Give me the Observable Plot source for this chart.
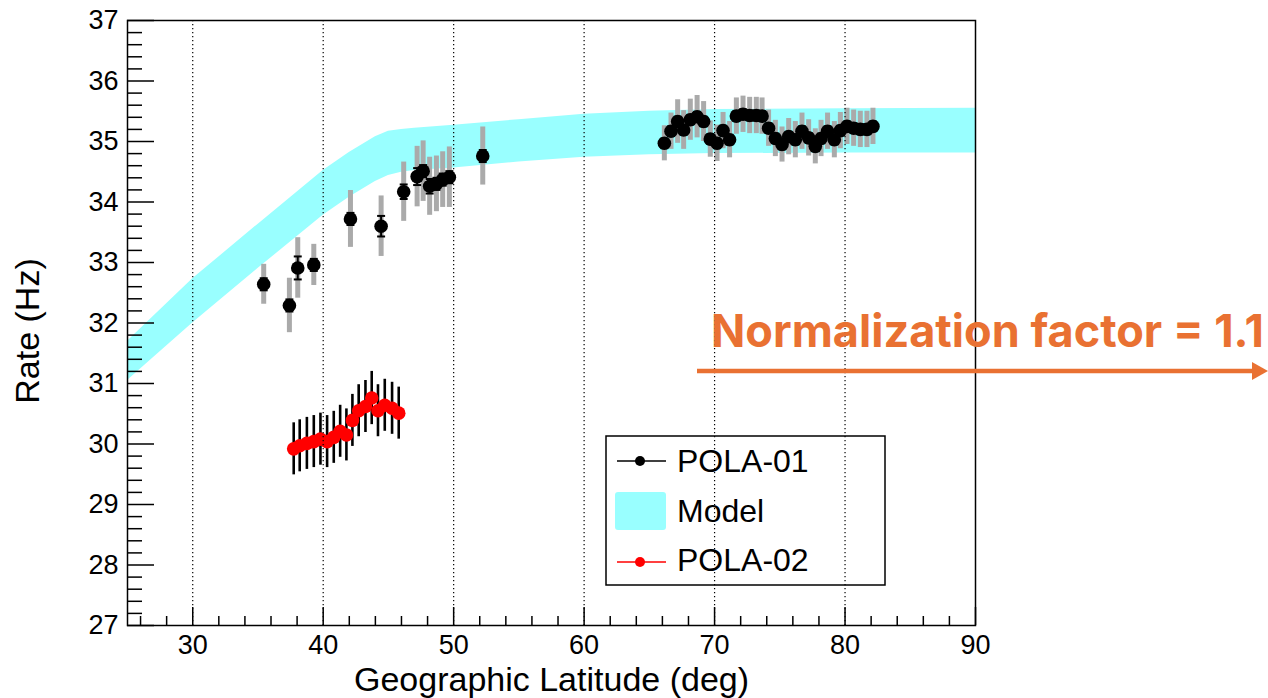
<!DOCTYPE html>
<html>
<head>
<meta charset="utf-8">
<script src="https://cdn.jsdelivr.net/npm/d3@7"></script>
<script src="https://cdn.jsdelivr.net/npm/@observablehq/plot@0.6"></script>
<style>
  html, body { margin: 0; padding: 0; background: #fff; }
  #wrap { position: relative; width: 1268px; height: 698px; overflow: hidden; }
  #overlay { position: absolute; left: 0; top: 0; pointer-events: none; }
</style>
</head>
<body>
<div id="wrap">
  <div id="chart"></div>
  <svg id="overlay" width="1268" height="698" xmlns="http://www.w3.org/2000/svg">
    <!-- legend -->
    <g font-family="Liberation Sans, Arial, sans-serif" font-size="32" fill="#000">
      <rect x="606" y="436" width="279" height="149" fill="none" stroke="#000" stroke-width="1.5"/>
      <line x1="617" x2="666" y1="461" y2="461" stroke="#000" stroke-width="1.5"/>
      <circle cx="640" cy="461" r="5" fill="#000"/>
      <text x="677" y="472">POLA-01</text>
      <rect x="615" y="492" width="51" height="38" rx="3" fill="#99ffff"/>
      <text x="677" y="522">Model</text>
      <line x1="617" x2="666" y1="562" y2="562" stroke="#ff0000" stroke-width="1.5"/>
      <circle cx="640" cy="562" r="5" fill="#ff0000"/>
      <text x="677" y="571">POLA-02</text>
    </g>
    <!-- annotation -->
    <g fill="#E97132">
      <text x="711" y="347" font-family="Inter, sans-serif" font-weight="700" font-size="45" textLength="553" lengthAdjust="spacingAndGlyphs">Normalization factor = 1.1</text>
      <line x1="697" x2="1255" y1="371" y2="371" stroke="#E97132" stroke-width="4.5"/>
      <path d="M1268,371 L1252,362 L1252,380 Z"/>
    </g>
  </svg>
</div>
<script>
// Model band: expected rate range versus latitude
const modelLat = [25, 30, 35, 40, 42, 44, 45, 46, 47, 50, 55, 60, 65, 70, 80, 90];
const modelLo  = [31.05, 32.00, 32.90, 33.78, 34.08, 34.34, 34.44, 34.49, 34.52, 34.56, 34.66, 34.74, 34.78, 34.80, 34.81, 34.81];
const modelHi  = [31.70, 32.73, 33.63, 34.52, 34.82, 35.08, 35.17, 35.20, 35.22, 35.27, 35.36, 35.45, 35.50, 35.53, 35.54, 35.55];

// POLA-01 measurements (rate, systematic and statistical errors)
const pola01Lat  = [35.44, 37.41, 38.05, 39.28, 42.09, 44.44, 46.17, 47.20, 47.66, 48.16, 48.68, 49.16, 49.67, 52.23,
                    66.15, 66.66, 67.17, 67.63, 68.14, 68.66, 69.16, 69.67, 70.19, 70.65, 71.15, 71.67, 72.18, 72.69,
                    73.20, 73.64, 74.14, 74.66, 75.17, 75.68, 76.19, 76.70, 77.21, 77.72, 78.16, 78.66, 79.18, 79.64,
                    80.15, 80.66, 81.17, 81.68, 82.14];
const pola01Rate = [32.64, 32.29, 32.91, 32.96, 33.72, 33.60, 34.17, 34.42, 34.51, 34.26, 34.30, 34.37, 34.41, 34.76,
                    34.97, 35.17, 35.33, 35.19, 35.36, 35.41, 35.33, 35.04, 34.97, 35.18, 35.03, 35.42, 35.45, 35.43,
                    35.43, 35.42, 35.22, 35.05, 34.95, 35.08, 35.03, 35.17, 35.06, 34.92, 35.05, 35.17, 35.03, 35.18,
                    35.25, 35.22, 35.20, 35.20, 35.25];
const pola01Sys  = [0.33, 0.45, 0.50, 0.34, 0.47, 0.50, 0.49, 0.50, 0.50, 0.48, 0.46, 0.46, 0.50, 0.48,
                    0.29, 0.30, 0.36, 0.32, 0.34, 0.35, 0.33, 0.30, 0.30, 0.30, 0.30, 0.30, 0.30, 0.30,
                    0.30, 0.30, 0.30, 0.30, 0.29, 0.30, 0.30, 0.30, 0.30, 0.29, 0.30, 0.30, 0.30, 0.30,
                    0.30, 0.30, 0.30, 0.30, 0.30];
const pola01Stat = [0.10, 0.10, 0.19, 0.10, 0.10, 0.17, 0.12, 0.14, 0.10, 0.12, 0.10, 0.10, 0.10, 0.10,
                    0.08, 0.08, 0.08, 0.08, 0.08, 0.08, 0.08, 0.08, 0.08, 0.08, 0.08, 0.08, 0.08, 0.08,
                    0.08, 0.08, 0.08, 0.08, 0.08, 0.08, 0.08, 0.08, 0.08, 0.08, 0.08, 0.08, 0.08, 0.08,
                    0.08, 0.08, 0.08, 0.08, 0.08];

// POLA-02 measurements
const pola02Lat  = [37.74, 38.20, 38.75, 39.28, 39.79, 40.30, 40.81, 41.30, 41.78, 42.24, 42.72, 43.24, 43.72, 44.20, 44.72, 45.28, 45.79];
const pola02Rate = [29.92, 29.97, 30.01, 30.04, 30.08, 30.04, 30.11, 30.21, 30.15, 30.39, 30.55, 30.62, 30.76, 30.55, 30.64, 30.59, 30.51];
const pola02Err  = [0.43, 0.43, 0.43, 0.43, 0.43, 0.43, 0.43, 0.43, 0.43, 0.43, 0.43, 0.43, 0.44, 0.43, 0.43, 0.43, 0.43];

// Axis ticks
const xMajor = [30, 40, 50, 60, 70, 80, 90];
const xGrid  = [30, 40, 50, 60, 70, 80];
const yMajor = [27, 28, 29, 30, 31, 32, 33, 34, 35, 36, 37];
const xMinor = d3.range(26, 90, 2).filter(v => v % 10 !== 0);
const yMinor = d3.range(27, 37.001, 0.2).map(v => +v.toFixed(1)).filter(v => !Number.isInteger(v));

const model  = modelLat.map((lat, i) => ({lat, lo: modelLo[i], hi: modelHi[i]}));
const pola01 = pola01Lat.map((lat, i) => ({lat, rate: pola01Rate[i], sys: pola01Sys[i], stat: pola01Stat[i]}));
const pola02 = pola02Lat.map((lat, i) => ({lat, rate: pola02Rate[i], err: pola02Err[i]}));

// horizontal cap for error bars
const cap = {draw(ctx, size) { const w = Math.sqrt(size) / 2; ctx.moveTo(-w, 0); ctx.lineTo(w, 0); }};

const font = "Liberation Sans, Arial, sans-serif";

const chart = Plot.plot({
  width: 1268,
  height: 698,
  marginLeft: 127,
  marginRight: 293,
  marginTop: 20,
  marginBottom: 73,
  style: {fontFamily: font, color: "#000", background: "transparent", overflow: "visible"},
  x: {domain: [25, 90]},
  y: {domain: [27, 37]},
  marks: [
    Plot.areaY(model, {x: "lat", y1: "lo", y2: "hi", fill: "#99ffff"}),
    Plot.ruleX(pola01, {x: "lat", y1: d => d.rate - d.sys, y2: d => d.rate + d.sys, stroke: "#aaaaaa", strokeWidth: 5}),
    Plot.ruleX(pola01, {x: "lat", y1: d => d.rate - d.stat, y2: d => d.rate + d.stat, stroke: "#000", strokeWidth: 2}),
    Plot.dot(pola01, {x: "lat", y: d => d.rate + d.stat, symbol: cap, r: 4.5, stroke: "#000", strokeWidth: 2, fill: "none"}),
    Plot.dot(pola01, {x: "lat", y: d => d.rate - d.stat, symbol: cap, r: 4.5, stroke: "#000", strokeWidth: 2, fill: "none"}),
    Plot.dot(pola01, {x: "lat", y: "rate", r: 6.8, fill: "#000", stroke: null}),
    Plot.ruleX(pola02, {x: "lat", y1: d => d.rate - d.err, y2: d => d.rate + d.err, stroke: "#000", strokeWidth: 2.6}),
    Plot.dot(pola02, {x: "lat", y: "rate", r: 6.8, fill: "#ff0000", stroke: null}),
    Plot.ruleX(xGrid, {stroke: "#000", strokeWidth: 1.2, strokeDasharray: "1.3,2.7"}),
    Plot.frame({stroke: "#000", strokeWidth: 1.5}),
    // tick labels
    Plot.axisX({ticks: xMajor, tickSize: 0, tickPadding: 9, fontSize: 27, label: null}),
    Plot.axisY({ticks: yMajor, tickSize: 0, tickPadding: 9, fontSize: 27, label: null}),
    // inward tick marks
    Plot.axisX({ticks: xMajor, tickSize: -18, tickFormat: () => "", label: null, strokeWidth: 1.5}),
    Plot.axisX({ticks: xMinor, tickSize: -9, tickFormat: () => "", label: null, strokeWidth: 1.5}),
    Plot.axisY({ticks: yMajor, tickSize: -27, tickFormat: () => "", label: null, strokeWidth: 1.5}),
    Plot.axisY({ticks: yMinor, tickSize: -15, tickFormat: () => "", label: null, strokeWidth: 1.5}),
    // axis titles
    Plot.text(["Geographic Latitude (deg)"], {frameAnchor: "bottom", dy: 65, text: d => d, fontSize: 34, fontFamily: font, fill: "#000"}),
    Plot.text(["Rate (Hz)"], {frameAnchor: "left", dx: -99, dy: 8, rotate: -90, textAnchor: "middle", text: d => d, fontSize: 34, fontFamily: font, fill: "#000"})
  ]
});

document.getElementById("chart").appendChild(chart);
</script>
</body>
</html>
